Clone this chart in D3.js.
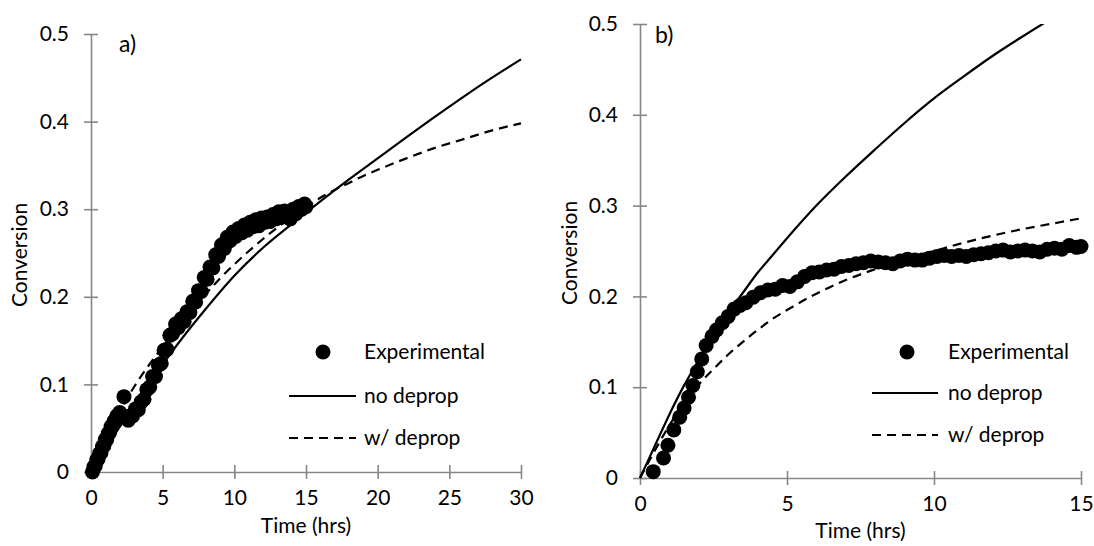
<!DOCTYPE html>
<html>
<head>
<meta charset="utf-8">
<script src="https://cdn.jsdelivr.net/npm/d3@7"></script>
<style>
  body { margin: 0; background: #fff; }
  text { font-family: Lato, "Open Sans", sans-serif; fill: #000; }
</style>
</head>
<body>
<svg id="chart" width="1094" height="546"></svg>
<script>
const WIDTH = 1094;
const HEIGHT = 546;
const AXIS_COLOR = "#868686";
const DOT_R = 7.5;
const FONT_SIZE = 21;

// panel a) - experimental points
const A_EXP_TIME = [0.1,0.2,0.3,0.4,0.5,0.6,0.7,0.8,0.9,1.0,1.1,1.2,1.3,1.4,1.5,1.6,1.7,1.8,1.9,2.0,2.1,2.3,2.5,2.6,2.7,2.9,
  3.1,3.3,3.5,3.7,3.9,4.1,4.3,4.5,4.7,4.9,5.1,5.3,5.5,5.7,5.9,6.1,6.3,6.5,6.7,6.9,7.1,7.3,7.5,7.7,7.9,8.1,8.3,8.5,8.7,8.9,
  9.1,9.3,9.5,9.7,9.9,10.1,10.3,10.5,10.7,10.9,11.1,11.3,11.5,11.7,11.9,12.1,12.3,12.5,12.7,12.9,13.1,13.3,13.5,13.7,13.9,
  14.1,14.3,14.5,14.7,14.9,15.0];
const A_EXP_CONV = [0.000,0.006,0.007,0.014,0.015,0.021,0.022,0.029,0.030,0.037,0.037,0.044,0.045,0.052,0.052,0.058,0.057,0.064,0.063,0.068,0.066,0.086,0.062,0.059,0.064,0.064,
  0.072,0.071,0.080,0.083,0.094,0.097,0.109,0.109,0.122,0.124,0.139,0.140,0.156,0.158,0.169,0.165,0.175,0.172,0.183,0.182,0.195,0.194,0.207,0.206,0.222,0.220,0.234,0.233,0.248,0.246,
  0.259,0.255,0.268,0.264,0.274,0.269,0.278,0.273,0.282,0.276,0.285,0.280,0.288,0.281,0.290,0.285,0.291,0.286,0.294,0.289,0.297,0.291,0.298,0.293,0.289,
  0.300,0.295,0.303,0.300,0.306,0.303];

// panel a) - model curves
const A_NODEP_TIME = [0,2,4,6,8,10,12,14,16,18,20,22.5,25,27.5,30];
const A_NODEP_CONV = [0,0.052,0.100,0.145,0.186,0.224,0.256,0.283,0.309,0.334,0.358,0.388,0.417,0.445,0.471];
const A_DEP_TIME = [0,1,2,3,4,5,6,7,8,9,10,11,12,13,14,15,16,17,18,19,20,22,24,26,28,30];
const A_DEP_CONV = [0,0.036,0.068,0.097,0.121,0.143,0.164,0.184,0.203,0.221,0.237,0.252,0.266,0.279,0.291,0.302,0.313,0.322,0.330,0.338,0.345,0.358,0.370,0.380,0.390,0.398];

// panel b) - experimental points
const B_EXP_TIME = [0.45,0.80,0.95,1.15,1.35,1.50,1.65,1.80,1.95,2.10,2.25,2.45,2.60,2.80,3.00,3.20,3.40,3.60,3.85,4.10,4.35,4.60,4.85,5.10,5.35,5.60,5.85,
  6.10,6.35,6.60,6.85,7.10,7.35,7.60,7.85,8.10,8.35,8.60,8.85,9.10,9.35,9.60,9.85,10.10,10.35,10.60,10.85,11.10,11.35,11.60,11.85,
  12.10,12.35,12.60,12.85,13.10,13.35,13.60,13.85,14.10,14.35,14.60,14.85,15.00];
const B_EXP_CONV = [0.007,0.022,0.036,0.053,0.067,0.077,0.089,0.102,0.117,0.131,0.146,0.156,0.163,0.171,0.178,0.186,0.190,0.193,0.199,0.204,0.207,0.208,0.212,0.211,0.216,0.222,0.226,
  0.227,0.229,0.230,0.233,0.234,0.236,0.237,0.239,0.238,0.237,0.236,0.239,0.241,0.240,0.240,0.242,0.244,0.245,0.244,0.245,0.244,0.246,0.247,0.248,
  0.250,0.251,0.249,0.250,0.251,0.250,0.249,0.252,0.253,0.252,0.256,0.254,0.255];

// panel b) - model curves
const B_MODEL_TIME = [0,0.5,1,1.5,2,2.5,3,3.5,4,4.5,5,6,7,8,9,10,11,12,13,14,15];
const B_NODEP_CONV = [0,0.035,0.070,0.102,0.130,0.157,0.182,0.204,0.226,0.245,0.264,0.300,0.332,0.362,0.391,0.418,0.442,0.465,0.486,0.506,0.525];
const B_DEP_CONV = [0,0.030,0.058,0.083,0.103,0.120,0.136,0.150,0.163,0.175,0.185,0.203,0.218,0.230,0.241,0.250,0.259,0.267,0.274,0.280,0.286];

const Y_TICKS = [0, 0.1, 0.2, 0.3, 0.4, 0.5];
const A_X_TICKS = [0, 5, 10, 15, 20, 25, 30];
const B_X_TICKS = [0, 5, 10, 15];
const LEGEND_LABELS = ["Experimental", "no deprop", "w/ deprop"];

function zip(ts, vs) { return ts.map((t, i) => ({ t: t, v: vs[i] })); }

const panels = [
  { id: "a", label: "a)", xMax: 30, xTicks: A_X_TICKS,
    x0: 91, x1: 521, y0: 472, y1: 34,
    exp: zip(A_EXP_TIME, A_EXP_CONV),
    nodep: zip(A_NODEP_TIME, A_NODEP_CONV),
    dep: zip(A_DEP_TIME, A_DEP_CONV),
    labelPos: [119, 52], yTitleX: 27, xTitleY: 533,
    legend: { dotX: 323, lineX0: 289, lineX1: 356, textX: 364, ys: [352, 396, 438] } },
  { id: "b", label: "b)", xMax: 15, xTicks: B_X_TICKS,
    x0: 640, x1: 1081, y0: 478, y1: 24,
    exp: zip(B_EXP_TIME, B_EXP_CONV),
    nodep: zip(B_MODEL_TIME, B_NODEP_CONV),
    dep: zip(B_MODEL_TIME, B_DEP_CONV),
    labelPos: [655, 43], yTitleX: 577, xTitleY: 538,
    legend: { dotX: 907, lineX0: 872, lineX1: 938, textX: 948, ys: [352, 393, 435] } }
];

const svg = d3.select("#chart");
svg.append("rect").attr("width", WIDTH).attr("height", HEIGHT).attr("fill", "#fff");

function drawPanel(p) {
  let g = svg.append("g").attr("id", "panel-" + p.id);

  let xScale = d3.scaleLinear().domain([0, p.xMax]).range([p.x0, p.x1]);
  let yScale = d3.scaleLinear().domain([0, 0.5]).range([p.y0, p.y1]);

  g.append("clipPath").attr("id", "clip-" + p.id)
    .append("rect")
    .attr("x", p.x0 - 20).attr("y", p.y1)
    .attr("width", p.x1 - p.x0 + 40).attr("height", p.y0 - p.y1 + 20);

  // axes, ticks cross the axis line like excel
  let yAxis = g.append("g")
    .attr("transform", `translate(${p.x0},0)`)
    .call(d3.axisLeft(yScale).tickValues(Y_TICKS).tickFormat(d3.format("~g"))
      .tickSizeInner(7).tickSizeOuter(0).tickPadding(15));
  yAxis.selectAll(".tick line").attr("x1", 7);

  let xAxis = g.append("g")
    .attr("transform", `translate(0,${p.y0})`)
    .call(d3.axisBottom(xScale).tickValues(p.xTicks)
      .tickSizeInner(7).tickSizeOuter(0).tickPadding(11));
  xAxis.selectAll(".tick line").attr("y1", -7);

  g.selectAll(".domain, .tick line").attr("stroke", AXIS_COLOR).attr("stroke-width", 1.6);
  g.selectAll(".tick text").attr("font-size", FONT_SIZE).attr("fill", "#000")
    .style("font-family", "Lato, 'Open Sans', sans-serif");

  // model lines
  let line = d3.line().x(d => xScale(d.t)).y(d => yScale(d.v)).curve(d3.curveMonotoneX);
  let plot = g.append("g").attr("clip-path", `url(#clip-${p.id})`);
  plot.append("path").datum(p.nodep).attr("d", line)
    .attr("fill", "none").attr("stroke", "#000").attr("stroke-width", 2.2);
  plot.append("path").datum(p.dep).attr("d", line)
    .attr("fill", "none").attr("stroke", "#000").attr("stroke-width", 2.2)
    .attr("stroke-dasharray", "9,6");

  // experimental points on top
  plot.selectAll("circle").data(p.exp).join("circle")
    .attr("cx", d => xScale(d.t))
    .attr("cy", d => yScale(d.v))
    .attr("r", DOT_R)
    .attr("fill", "#000");

  // titles
  g.append("text").attr("x", p.labelPos[0]).attr("y", p.labelPos[1])
    .attr("font-size", 23).text(p.label);
  g.append("text")
    .attr("transform", `translate(${p.yTitleX},${(p.y0 + p.y1) / 2 + 2}) rotate(-90)`)
    .attr("text-anchor", "middle").attr("font-size", FONT_SIZE).text("Conversion");
  g.append("text").attr("x", (p.x0 + p.x1) / 2).attr("y", p.xTitleY)
    .attr("text-anchor", "middle").attr("font-size", FONT_SIZE).text("Time (hrs)");

  // legend
  let L = p.legend;
  g.append("circle").attr("cx", L.dotX).attr("cy", L.ys[0]).attr("r", DOT_R).attr("fill", "#000");
  g.append("line").attr("x1", L.lineX0).attr("x2", L.lineX1).attr("y1", L.ys[1]).attr("y2", L.ys[1])
    .attr("stroke", "#000").attr("stroke-width", 2.2);
  g.append("line").attr("x1", L.lineX0).attr("x2", L.lineX1).attr("y1", L.ys[2]).attr("y2", L.ys[2])
    .attr("stroke", "#000").attr("stroke-width", 2.2).attr("stroke-dasharray", "9,6");
  g.selectAll(".legend-text").data(LEGEND_LABELS).join("text")
    .attr("class", "legend-text")
    .attr("x", L.textX).attr("y", (d, i) => L.ys[i])
    .attr("dy", "0.35em").attr("font-size", FONT_SIZE).text(d => d);
}

panels.forEach(drawPanel);
</script>
</body>
</html>
